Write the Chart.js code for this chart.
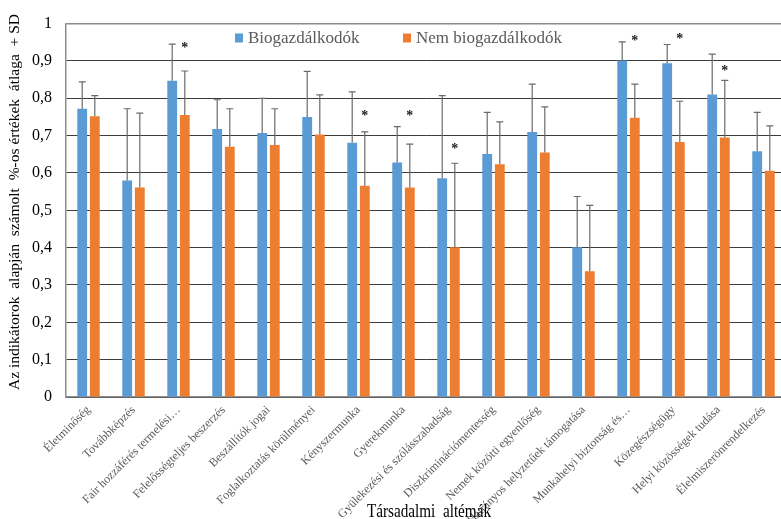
<!DOCTYPE html>
<html lang="hu">
<head>
<meta charset="utf-8">
<title>Társadalmi altémák</title>
<script src="https://cdn.jsdelivr.net/npm/chart.js@4/dist/chart.umd.min.js"></script>
<style>
  html, body { margin: 0; padding: 0; background: #ffffff; overflow: hidden; }
  #wrap { position: relative; width: 786px; height: 519px; }
</style>
</head>
<body>
<div id="wrap"><canvas id="chart" width="786" height="519"></canvas></div>
<script>
// Társadalmi altémák – átlagértékek és szórás a két csoportra
const categories = [
  'Életminőség',
  'Továbbképzés',
  'Fair hozzáférés termelési…',
  'Felelősségteljes beszerzés',
  'Beszállítók jogai',
  'Foglalkoztatás körülményei',
  'Kényszermunka',
  'Gyerekmunka',
  'Gyülekezési és szólásszabadság',
  'Diszkriminációmentesség',
  'Nemek közötti egyenlőség',
  'Hátrányos helyzetűek támogatása',
  'Munkahelyi biztonság és…',
  'Közegészségügy',
  'Helyi közösségek tudása',
  'Élelmiszerönrendelkezés'
];

const seriesNames = ['Biogazdálkodók', 'Nem biogazdálkodók'];

// átlagok
const bioMean    = [0.772, 0.580, 0.847, 0.718, 0.707, 0.750, 0.681, 0.628, 0.586, 0.651, 0.710, 0.401, 0.901, 0.894, 0.810, 0.658];
const nonBioMean = [0.752, 0.561, 0.755, 0.670, 0.675, 0.703, 0.566, 0.561, 0.401, 0.623, 0.655, 0.337, 0.748, 0.683, 0.695, 0.606];

// szórások (SD)
const bioSD      = [0.072, 0.192, 0.098, 0.078, 0.093, 0.122, 0.136, 0.096, 0.221, 0.111, 0.128, 0.136, 0.050, 0.050, 0.108, 0.104];
const nonBioSD   = [0.055, 0.199, 0.118, 0.102, 0.097, 0.106, 0.144, 0.116, 0.225, 0.114, 0.122, 0.176, 0.090, 0.109, 0.153, 0.120];

// szignifikáns különbség jelölése (*) – a jel magassága értékben, null ha nincs
const significance = [null, null, 0.942, null, null, null, 0.760, 0.760, 0.671, null, null, null, 0.961, 0.966, 0.882, null];

const yTickLabels = ['0', '0,1', '0,2', '0,3', '0,4', '0,5', '0,6', '0,7', '0,8', '0,9', '1'];

const xTitle = 'Társadalmi  altémák';
const yTitle = 'Az indikátorok  alapján  számolt  %-os értékek  átlaga  + SD';

const BLUE = '#5b9bd5';
const ORANGE = '#ed7d31';
const SERIF = '"Liberation Serif", "Times New Roman", serif';

// hibasávok, csillagok, jelmagyarázat és tengelycímek
const overlay = {
  id: 'overlay',
  afterDatasetsDraw(chart) {
    const ctx = chart.ctx;
    const ys = chart.scales.y;

    // hibasávok
    [bioSD, nonBioSD].forEach((sd, di) => {
      const meta = chart.getDatasetMeta(di);
      const vals = chart.data.datasets[di].data;
      meta.data.forEach((bar, i) => {
        const top = ys.getPixelForValue(vals[i] + sd[i]);
        ctx.save();
        ctx.strokeStyle = '#6a6a6a';
        ctx.lineWidth = 1.2;
        ctx.beginPath();
        ctx.moveTo(bar.x, bar.y);
        ctx.lineTo(bar.x, top);
        ctx.moveTo(bar.x - 3.5, top);
        ctx.lineTo(bar.x + 3.5, top);
        ctx.stroke();
        ctx.restore();
      });
    });

    // csillagok
    const metaN = chart.getDatasetMeta(1);
    significance.forEach((lvl, i) => {
      if (lvl === null) return;
      const x = metaN.data[i].x;
      const y = ys.getPixelForValue(lvl);
      ctx.save();
      ctx.fillStyle = '#1a1a1a';
      ctx.font = 'bold 14px ' + SERIF;
      ctx.textAlign = 'center';
      ctx.textBaseline = 'alphabetic';
      ctx.fillText('*', x, y + 7);
      ctx.restore();
    });

    // jelmagyarázat
    const legendItems = [
      { label: seriesNames[0], color: BLUE, x: 235 },
      { label: seriesNames[1], color: ORANGE, x: 403 }
    ];
    ctx.save();
    ctx.font = '17px ' + SERIF;
    ctx.textBaseline = 'middle';
    ctx.textAlign = 'left';
    legendItems.forEach(it => {
      ctx.fillStyle = it.color;
      ctx.fillRect(it.x, 33.5, 8, 9);
      ctx.fillStyle = '#595959';
      ctx.fillText(it.label, it.x + 13, 38.5);
    });
    ctx.restore();

    // tengelycímek
    ctx.save();
    ctx.fillStyle = '#000000';
    ctx.font = '19px ' + SERIF;
    ctx.textAlign = 'center';
    ctx.textBaseline = 'alphabetic';
    ctx.translate(429, 517);
    ctx.scale(0.8, 1);
    ctx.fillText(xTitle, 0, 0);
    ctx.restore();

    ctx.save();
    ctx.fillStyle = '#000000';
    ctx.textAlign = 'center';
    ctx.textBaseline = 'middle';
    ctx.translate(15, 202);
    ctx.rotate(-Math.PI / 2);
    ctx.font = '15.5px ' + SERIF;
    ctx.fillText(yTitle, 0, 0);
    ctx.restore();
  }
};

new Chart(document.getElementById('chart'), {
  type: 'bar',
  data: {
    labels: categories,
    datasets: [
      { label: seriesNames[0], data: bioMean, backgroundColor: BLUE,
        categoryPercentage: 0.56, barPercentage: 0.78 },
      { label: seriesNames[1], data: nonBioMean, backgroundColor: ORANGE,
        categoryPercentage: 0.56, barPercentage: 0.78 }
    ]
  },
  options: {
    responsive: false,
    animation: false,
    layout: { padding: { top: 18, right: 0, left: 0, bottom: 0 } },
    plugins: {
      legend: { display: false },
      tooltip: { enabled: false }
    },
    scales: {
      x: {
        grid: { display: false, drawTicks: false },
        border: { color: '#8c8c8c', width: 1.5 },
        ticks: {
          autoSkip: false,
          maxRotation: 45,
          minRotation: 45,
          padding: 6,
          color: '#595959',
          font: { family: SERIF, size: 12 }
        },
        afterFit(scale) { scale.height = 122; }
      },
      y: {
        min: 0,
        max: 1,
        ticks: {
          stepSize: 0.1,
          padding: 14,
          color: '#000000',
          font: { family: SERIF, size: 16 },
          callback: (v, i) => yTickLabels[i]
        },
        grid: {
          color: (c) => (c.index === 10 ? '#8c8c8c' : '#3c3c3c'),
          lineWidth: (c) => (c.index === 10 ? 1.5 : 1),
          drawTicks: false
        },
        border: { color: '#8c8c8c', width: 1.5 },
        afterFit(scale) { scale.width = 66; }
      }
    }
  },
  plugins: [overlay]
});
</script>
</body>
</html>
